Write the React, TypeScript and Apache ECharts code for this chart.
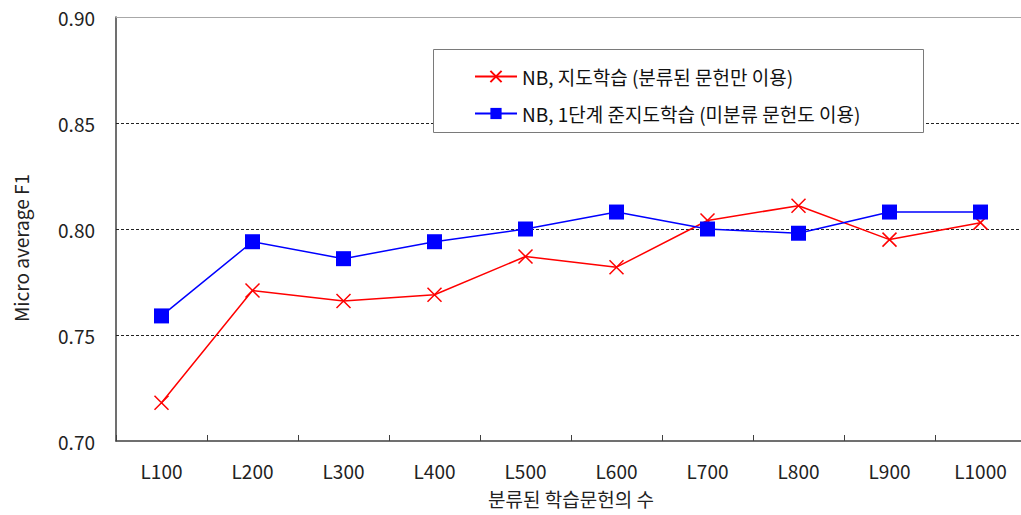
import React, { useEffect, useRef } from "react";
import * as echarts from "echarts";

const categories = ["L100", "L200", "L300", "L400", "L500", "L600", "L700", "L800", "L900", "L1000"];
const supervised = [0.718, 0.771, 0.766, 0.769, 0.787, 0.782, 0.804, 0.811, 0.795, 0.803];
const semiSupervised = [0.759, 0.794, 0.786, 0.794, 0.8, 0.808, 0.8, 0.798, 0.808, 0.808];
const gridValues = [0.75, 0.8, 0.85];

const seriesNames = ["NB, 지도학습 (분류된 문헌만 이용)", "NB, 1단계 준지도학습 (미분류 문헌도 이용)"];
const FONT = "'Noto Sans CJK KR', 'Liberation Sans', sans-serif";
const CROSS = "path://M0,0L10,10M10,0L0,10";

export default function App() {
  const ref = useRef<HTMLDivElement>(null);

  useEffect(() => {
    if (!ref.current) return;
    const chart = echarts.init(ref.current, null, { renderer: "svg" });
    chart.setOption({
      animation: false,
      backgroundColor: "#ffffff",
      textStyle: { fontFamily: FONT },
      grid: {
        left: 116,
        top: 17,
        width: 910,
        height: 424,
        show: false,
      },
      graphic: [
        {
          type: "rect",
          z: 3,
          shape: { x: 433.5, y: 49.5, width: 490, height: 83 },
          style: { fill: "#ffffff", stroke: "#7a7a7a", lineWidth: 1 },
        },
      ],
      legend: {
        orient: "vertical",
        left: 469,
        top: 62,
        itemWidth: 42,
        itemHeight: 14,
        itemGap: 18,
        z: 5,
        data: seriesNames,
        textStyle: { fontSize: 19, color: "#111", fontFamily: FONT },
      },
      xAxis: [
        {
          type: "category",
          data: categories,
          boundaryGap: true,
          name: "분류된 학습문헌의 수",
          nameLocation: "middle",
          nameGap: 48,
          nameTextStyle: { fontSize: 19, color: "#222", fontFamily: FONT },
          axisLine: { lineStyle: { color: "#404040", width: 1.5 } },
          axisTick: { show: true, inside: true, length: 6, lineStyle: { color: "#404040", width: 1 } },
          axisLabel: { fontSize: 19, color: "#222", margin: 20, fontFamily: FONT },
          splitLine: { show: false },
        },
        {
          // plain frame line along the top of the plot
          type: "category",
          data: categories,
          position: "top",
          axisLine: { show: true, lineStyle: { color: "#a8a8a8", width: 1 } },
          axisTick: { show: false },
          axisLabel: { show: false },
          splitLine: { show: false },
        },
      ],
      yAxis: {
        type: "value",
        min: 0.7,
        max: 0.9,
        interval: 0.05,
        name: "Micro average F1",
        nameLocation: "middle",
        nameGap: 86,
        nameTextStyle: { fontSize: 19, color: "#222", fontFamily: FONT, padding: [0, 0, 0, -38] },
        axisLine: { show: true, lineStyle: { color: "#404040", width: 1.5 } },
        axisTick: { show: false },
        axisLabel: {
          fontSize: 19,
          color: "#222",
          margin: 21,
          fontFamily: FONT,
          formatter: (v: number) => v.toFixed(2),
        },
        splitLine: { show: false },
      },
      series: [
        {
          name: seriesNames[0],
          type: "line",
          data: supervised,
          color: "#ff0000",
          symbol: CROSS,
          symbolSize: 14,
          lineStyle: { color: "#ff0000", width: 1.5 },
          itemStyle: { color: "#ff0000", borderColor: "#ff0000", borderWidth: 1.5 },
          z: 2,
          markLine: {
            silent: true,
            symbol: "none",
            label: { show: false },
            lineStyle: { color: "#222", type: [3, 2], width: 1 },
            data: gridValues.map((v) => ({ yAxis: v })),
            z: 1,
          },
        },
        {
          name: seriesNames[1],
          type: "line",
          data: semiSupervised,
          color: "#0000ff",
          symbol: "rect",
          symbolSize: 15,
          lineStyle: { color: "#0000ff", width: 1.5 },
          itemStyle: { color: "#0000ff" },
          z: 2,
        },
      ],
    });
    return () => chart.dispose();
  }, []);

  // The plot runs slightly past the right edge of the visible area, so the
  // chart is drawn a little wider and clipped by its wrapper.
  return (
    <div style={{ position: "fixed", left: 0, top: 0, width: 1021, height: 515, overflow: "hidden", background: "#fff" }}>
      <div ref={ref} style={{ width: 1040, height: 515 }} />
    </div>
  );
}
